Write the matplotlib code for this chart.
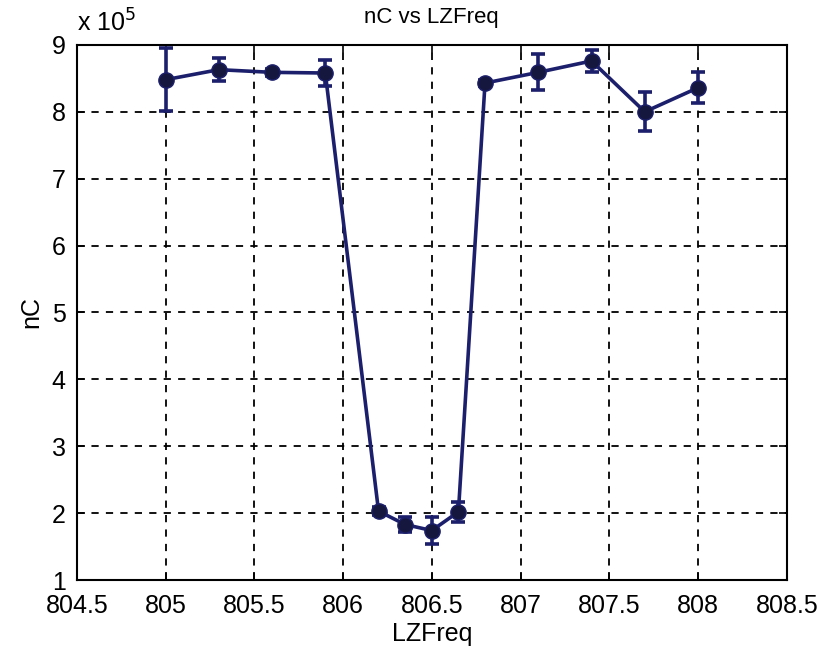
import matplotlib
matplotlib.use("Agg")
import matplotlib.pyplot as plt
from matplotlib.ticker import FuncFormatter

# datos (nC en unidades reales)
lzfreq = [805.0, 805.3, 805.6, 805.9, 806.2, 806.35, 806.5, 806.65,
          806.8, 807.1, 807.4, 807.7, 808.0]
nc = [8.48e5, 8.63e5, 8.59e5, 8.58e5, 2.03e5, 1.83e5, 1.74e5, 2.02e5,
      8.43e5, 8.59e5, 8.76e5, 8.00e5, 8.36e5]
nc_err = [0.47e5, 0.17e5, 0.05e5, 0.19e5, 0.06e5, 0.11e5, 0.20e5, 0.15e5,
          0.04e5, 0.27e5, 0.17e5, 0.29e5, 0.23e5]

xticks = [804.5, 805, 805.5, 806, 806.5, 807, 807.5, 808, 808.5]
yticks = [1e5, 2e5, 3e5, 4e5, 5e5, 6e5, 7e5, 8e5, 9e5]

plt.rcParams['font.family'] = ['Liberation Sans', 'DejaVu Sans']

fig = plt.figure(figsize=(8.17, 6.51), dpi=100)
ax = fig.add_axes([0.094, 0.109, 0.869, 0.822])

col = '#1c1f6b'
ax.errorbar(lzfreq, nc, yerr=nc_err, color=col, lw=2.6, marker='o',
            markersize=11, markerfacecolor='#15173f', markeredgecolor=col,
            ecolor=col, elinewidth=2.6, capsize=5, capthick=2.6, zorder=3)

ax.set_xlim(804.5, 808.5)
ax.set_ylim(1e5, 9e5)
ax.set_xticks(xticks)
ax.set_yticks(yticks)
ax.xaxis.set_major_formatter(FuncFormatter(lambda v, p: '%g' % v))
ax.yaxis.set_major_formatter(FuncFormatter(lambda v, p: '%g' % (v / 1e5)))
ax.grid(True, color='black', linestyle=(0, (4, 4)), linewidth=1.3)
ax.tick_params(direction='in', labelsize=18, length=6, width=1.2,
               top=True, right=True)
ax.tick_params(axis='x', pad=10)
ax.tick_params(axis='y', pad=8)
for s in ax.spines.values():
    s.set_linewidth(1.5)

ax.set_xlabel('LZFreq', fontsize=18, labelpad=3)
ax.set_ylabel('nC', fontsize=18, labelpad=6)
ax.set_title('nC vs LZFreq', fontsize=16, pad=16)
ax.text(0.0, 1.015, r'x 10$^5$', transform=ax.transAxes, fontsize=18,
        ha='left', va='bottom')

fig.savefig('out.png', dpi=100)
